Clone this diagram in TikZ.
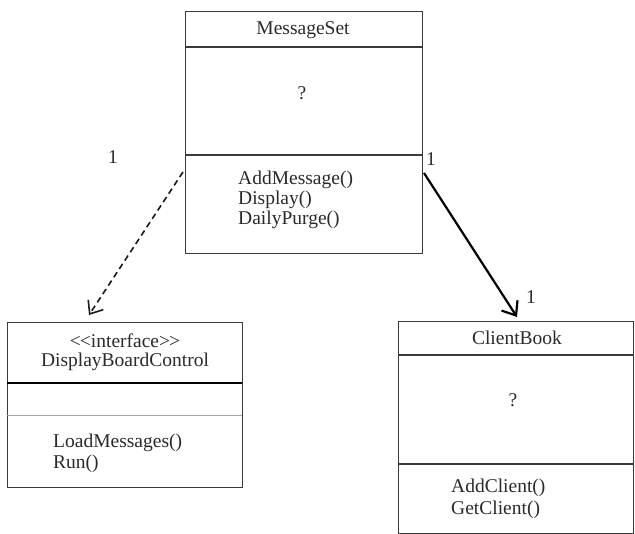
\documentclass[tikz,border=0pt]{standalone}
\usepackage{fontspec}
\setmainfont{Liberation Serif}
\usetikzlibrary{arrows.meta}
\definecolor{boxc}{HTML}{3A3A3A}
\definecolor{txtc}{HTML}{2A2A2A}
\begin{document}
\begin{tikzpicture}[x=1pt,y=-1pt,
  umlbox/.style={draw=boxc, line width=1.3pt, anchor=north west, inner sep=0pt},
  lbl/.style={font=\fontsize{19.5}{23}\selectfont, text=txtc, inner sep=0pt},
  sepline/.style={draw=boxc, line width=1.3pt},
  thicksep/.style={draw=black, line width=2.2pt},
  thinsep/.style={draw=gray!70, line width=1pt},
  dep/.style={draw=black!90, line width=1.6pt, dash pattern=on 6pt off 4pt, -{Straight Barb[length=11pt,width=18pt,line width=1.6pt]}},
  assoc/.style={draw=black, line width=2.2pt, -{Straight Barb[length=12pt,width=19pt,line width=2.2pt]}}]
\useasboundingbox (0,0) rectangle (635,534);
% MessageSet
\node[umlbox, minimum width=237pt, minimum height=242pt] (ms) at (185,11) {};
\draw[sepline] (185,47) -- (422,47);
\draw[sepline] (185,155) -- (422,155);
\node[lbl] (msname) at (303,30) {MessageSet};
\node[lbl] (msattr) at (302,93) {?};
\node[lbl, anchor=west] (msm1) at (238,180) {AddMessage()};
\node[lbl, anchor=west] (msm2) at (238,200) {Display()};
\node[lbl, anchor=west] (msm3) at (238,220) {DailyPurge()};
% DisplayBoardControl
\node[umlbox, minimum width=235pt, minimum height=165pt] (dbc) at (7,322) {};
\draw[thicksep] (7,383) -- (242,383);
\draw[thinsep] (7,416) -- (242,416);
\node[lbl] (dbcst) at (125,341) {{<}\kern-1pt{<}interface{>}\kern-1pt{>}};
\node[lbl] (dbcname) at (125,362) {DisplayBoardControl};
\node[lbl, anchor=west] (dbcm1) at (53,443) {LoadMessages()};
\node[lbl, anchor=west] (dbcm2) at (53,464) {Run()};
% ClientBook
\node[umlbox, minimum width=235pt, minimum height=212pt] (cb) at (398,321) {};
\draw[sepline] (398,355) -- (633,355);
\draw[sepline] (398,464) -- (633,464);
\node[lbl] (cbname) at (517,338) {ClientBook};
\node[lbl] (cbattr) at (513,400) {?};
\node[lbl, anchor=west] (cbm1) at (451,488) {AddClient()};
\node[lbl, anchor=west] (cbm2) at (451,510) {GetClient()};
% connectors
\coordinate (depstart) at (183,172);
\coordinate (depend) at (89,315);
\coordinate (asstart) at (424,173);
\coordinate (asend) at (517,317);
\draw[dep] (depstart) -- (depend);
\draw[assoc] (asstart) -- (asend);
\node[lbl] (m1) at (113,157) {1};
\node[lbl] (m2) at (431,159) {1};
\node[lbl] (m3) at (531,297) {1};
\end{tikzpicture}
\end{document}
